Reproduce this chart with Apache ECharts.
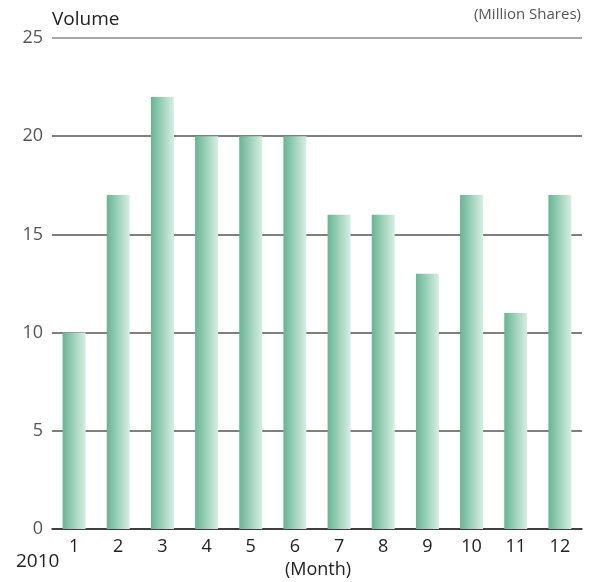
<!DOCTYPE html>
<html><head><meta charset="utf-8">
<script src="https://cdn.jsdelivr.net/npm/echarts@6/dist/echarts.min.js"></script>
<style>html,body{margin:0;padding:0;background:#fff}#c{width:589px;height:582px}</style>
</head><body><div id="c"></div>
<script>
var months = ['1','2','3','4','5','6','7','8','9','10','11','12'];
var volume = [10,17,22,20,20,20,16,16,13,17,11,17];
var yTicks = [0,5,10,15,20,25];

var font = '"Open Sans", "Noto Sans", sans-serif';
var chart = echarts.init(document.getElementById('c'));
chart.setOption({
  animation: false,
  grid: {left: 52, right: 7, top: 38, bottom: 53},
  graphic: [
    {type:'text', left: 52, top: 10, style:{text:'Volume', font:'19px ' + font, fill:'#222'}},
    {type:'text', right: 8, top: 7, style:{text:'(Million Shares)', font:'15px ' + font, fill:'#555'}},
    {type:'text', left: 16, top: 552, style:{text:'2010', font:'19px ' + font, fill:'#222'}},
    {type:'text', left: 285, top: 561, style:{text:'(Month)', font:'18px ' + font, fill:'#222'}}
  ],
  xAxis: {
    type: 'category', data: months,
    axisLine: {lineStyle:{color:'#333', width:1.5}},
    axisTick: {show:false},
    axisLabel: {color:'#222', fontSize:18, fontFamily:font, margin:9}
  },
  yAxis: {
    type: 'value', min: 0, max: 25, interval: 5,
    axisLine: {show:false}, axisTick: {show:false},
    axisLabel: {color:'#555', fontSize:18, fontFamily:font, margin:9},
    splitLine: {lineStyle:{color:['#333','#555','#555','#555','#555','#888'], width:1.5}}
  },
  series: [{
    type: 'bar', data: volume, barWidth: 23,
    itemStyle: {color: new echarts.graphic.LinearGradient(0,0,1,0,[
      {offset:0, color:'#66b595'},{offset:1, color:'#d8eee2'}])}
  }]
});
</script></body></html>
